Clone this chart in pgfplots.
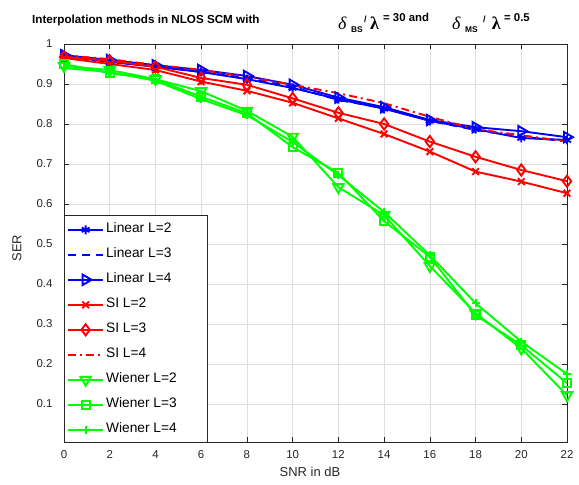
\documentclass[border=0pt]{standalone}
\usepackage{fontspec}
\setmainfont{Liberation Sans}
\newfontfamily\serifgreek{Liberation Serif}
\usepackage{pgfplots}
\pgfplotsset{compat=1.18}
\definecolor{axgray}{rgb}{0.15,0.15,0.15}
\newcommand{\legtxt}[1]{\makebox[96bp][l]{#1}}
\begin{document}
\begin{tikzpicture}
\begin{axis}[
  width=503bp, height=398bp, scale only axis,
  xmin=0, xmax=22, ymin=0.005, ymax=1,
  xtick={0,2,...,22},
  ytick={0.1,0.2,0.3,0.4,0.5,0.6,0.7,0.8,0.9,1},
  grid=major, major grid style={black!13, line width=0.6bp},
  axis line style={axgray, line width=0.6bp},
  tick style={axgray, line width=0.6bp}, major tick length=5bp,
  tick label style={font=\fontsize{11.5}{12}\selectfont, text=axgray},
  /pgf/number format/assume math mode=true,
  xticklabel shift=5bp, yticklabel shift=8bp,
  xlabel={SNR in dB}, ylabel={SER},
  label style={font=\fontsize{13}{14}\selectfont, text=axgray},
  xlabel style={at={(axis description cs:0.489,-0.063)}, anchor=north, inner sep=0pt},
  ylabel style={at={(axis description cs:-0.084,0.487)}, anchor=south, inner sep=0pt},
  legend style={at={(axis description cs:0,0)}, anchor=south west, draw=axgray,
    fill=white, inner xsep=3bp, inner ysep=1bp,
    font=\fontsize{13.8}{14}\selectfont, nodes={inner sep=2bp}, column sep=0bp},
  legend cell align=left,
  legend image code/.code={\path[draw=none,fill=none] (0bp,-12.5bp) rectangle (35bp,12.5bp);\draw[mark repeat=2,mark phase=2, yshift=-1.5bp] plot coordinates {(0bp,0bp) (17.5bp,0bp) (35bp,0bp)};},
]
\addplot[blue, line width=1.9bp, mark=asterisk, mark size=4.5bp, mark options={solid}] coordinates {
(0,0.970) (2,0.955) (4,0.943) (6,0.930) (8,0.912) (10,0.890) (12,0.862) (14,0.838) (16,0.808) (18,0.787) (20,0.765) (22,0.760)};
\addlegendentry{\legtxt{Linear L=2}}
\addplot[blue, line width=1.9bp, dash pattern=on 8bp off 6bp] coordinates {
(0,0.968) (2,0.957) (4,0.945) (6,0.930) (8,0.915) (10,0.893) (12,0.860) (14,0.840) (16,0.808) (18,0.785) (20,0.768) (22,0.757)};
\addlegendentry{\legtxt{Linear L=3}}
\addplot[blue, line width=1.9bp, mark=triangle, mark size=6bp, mark options={solid, rotate=-90}] coordinates {
(0,0.972) (2,0.960) (4,0.947) (6,0.935) (8,0.920) (10,0.898) (12,0.866) (14,0.842) (16,0.810) (18,0.792) (20,0.782) (22,0.767)};
\addlegendentry{\legtxt{Linear L=4}}
\addplot[red, line width=1.9bp, mark=x, mark size=4.7bp, mark options={solid}] coordinates {
(0,0.965) (2,0.950) (4,0.935) (6,0.906) (8,0.883) (10,0.853) (12,0.814) (14,0.775) (16,0.731) (18,0.681) (20,0.656) (22,0.627)};
\addlegendentry{\legtxt{SI L=2}}
\addplot[red, line width=1.9bp, mark=diamond, mark size=5.6bp, mark options={solid}] coordinates {
(0,0.968) (2,0.958) (4,0.943) (6,0.915) (8,0.898) (10,0.864) (12,0.828) (14,0.800) (16,0.756) (18,0.718) (20,0.685) (22,0.657)};
\addlegendentry{\legtxt{SI L=3}}
\addplot[red, line width=1.9bp, dash pattern=on 8bp off 4bp on 2bp off 4bp] coordinates {
(0,0.972) (2,0.962) (4,0.948) (6,0.935) (8,0.918) (10,0.898) (12,0.877) (14,0.852) (16,0.818) (18,0.787) (20,0.772) (22,0.756)};
\addlegendentry{\legtxt{SI L=4}}
\addplot[green, line width=1.9bp, mark=triangle, mark size=6bp, mark options={solid, rotate=180}] coordinates {
(0,0.945) (2,0.935) (4,0.912) (6,0.882) (8,0.833) (10,0.768) (12,0.642) (14,0.572) (16,0.445) (18,0.327) (20,0.239) (22,0.122)};
\addlegendentry{\legtxt{Wiener L=2}}
\addplot[green, line width=1.9bp, mark=square, mark size=4bp, mark options={solid}] coordinates {
(0,0.950) (2,0.927) (4,0.912) (6,0.868) (8,0.827) (10,0.742) (12,0.678) (14,0.557) (16,0.468) (18,0.322) (20,0.247) (22,0.152)};
\addlegendentry{\legtxt{Wiener L=3}}
\addplot[green, line width=1.9bp, mark=+, mark size=4bp, mark options={solid}] coordinates {
(0,0.940) (2,0.930) (4,0.908) (6,0.862) (8,0.822) (10,0.755) (12,0.672) (14,0.580) (16,0.472) (18,0.352) (20,0.256) (22,0.175)};
\addlegendentry{\legtxt{Wiener L=4}}
\end{axis}
\node[anchor=base west, inner sep=0pt, font=\bfseries\fontsize{11.7}{12}\selectfont] at (-32bp,418bp) {Interpolation methods in NLOS SCM with};
\node[anchor=base west, inner sep=0pt, font=\serifgreek\itshape\fontsize{18}{18}\selectfont] at (274bp,412bp) {δ};
\node[anchor=base west, inner sep=0pt, font=\bfseries\fontsize{8.4}{9}\selectfont] at (287bp,409.7bp) {BS};
\node[anchor=base west, inner sep=0pt, font=\bfseries\fontsize{9}{9}\selectfont] at (300bp,419bp) {/};
\node[anchor=base west, inner sep=0pt, font=\serifgreek\bfseries\fontsize{18}{18}\selectfont] at (306bp,412bp) {λ};
\node[anchor=base west, inner sep=0pt, font=\bfseries\fontsize{11.4}{12}\selectfont] at (319bp,420bp) {= 30 and};
\node[anchor=base west, inner sep=0pt, font=\serifgreek\itshape\fontsize{18}{18}\selectfont] at (388bp,412bp) {δ};
\node[anchor=base west, inner sep=0pt, font=\bfseries\fontsize{8.4}{9}\selectfont] at (401bp,409.7bp) {MS};
\node[anchor=base west, inner sep=0pt, font=\bfseries\fontsize{9}{9}\selectfont] at (419bp,419bp) {/};
\node[anchor=base west, inner sep=0pt, font=\serifgreek\bfseries\fontsize{18}{18}\selectfont] at (427.7bp,412bp) {λ};
\node[anchor=base west, inner sep=0pt, font=\bfseries\fontsize{11.4}{12}\selectfont] at (440bp,420bp) {= 0.5};
\pgfresetboundingbox
\path[use as bounding box] (-64bp,-43bp) rectangle (515bp,442bp);
\end{tikzpicture}
\end{document}
